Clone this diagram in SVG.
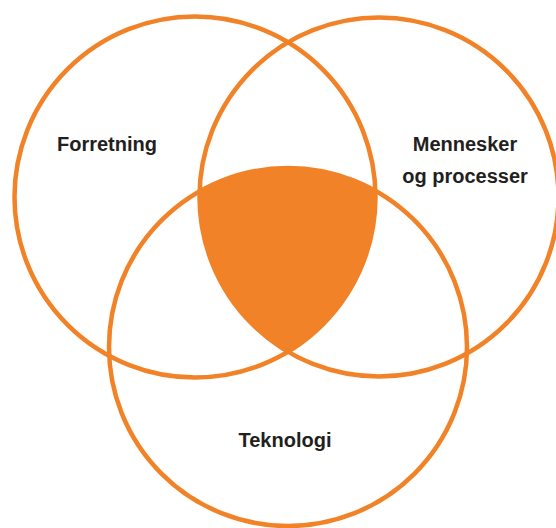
<svg xmlns="http://www.w3.org/2000/svg" width="556" height="528" viewBox="0 0 556 528">
  <style>
    .ring { fill: none; stroke: #F28227; stroke-width: 4.5; }
    .core { fill: #F28227; stroke: none; }
    .label { font-family: "Liberation Sans", Arial, sans-serif; font-weight: bold; font-size: 20px; fill: #231F20; text-anchor: middle; }
  </style>
  <defs>
    <clipPath id="clipLeft"><circle cx="195" cy="197" r="180.5"/></clipPath>
    <clipPath id="clipRight"><circle cx="379" cy="197" r="179.5"/></clipPath>
  </defs>
  <rect width="556" height="528" fill="#ffffff"/>
  <g id="center-overlap">
    <g clip-path="url(#clipLeft)">
      <g clip-path="url(#clipRight)">
        <circle class="core" cx="288" cy="347" r="179"/>
      </g>
    </g>
  </g>
  <g id="forretning">
    <circle class="ring" cx="195" cy="197" r="180.5"/>
    <text class="label" x="107" y="151">Forretning</text>
  </g>
  <g id="mennesker-og-processer">
    <circle class="ring" cx="379" cy="197" r="179.5"/>
    <text class="label" x="465" y="151">Mennesker</text>
    <text class="label" x="465" y="183">og processer</text>
  </g>
  <g id="teknologi">
    <circle class="ring" cx="288" cy="347" r="179"/>
    <text class="label" x="285" y="447">Teknologi</text>
  </g>
  <g id="connectors"></g>
</svg>
